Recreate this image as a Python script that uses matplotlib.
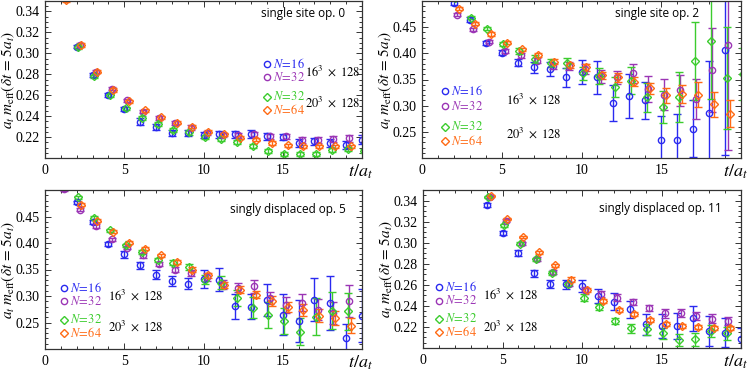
import numpy as np
import matplotlib
matplotlib.use("Agg")
import matplotlib.pyplot as plt
from matplotlib.ticker import MultipleLocator, FormatStrFormatter

plt.rcParams['font.family'] = 'serif'
plt.rcParams['font.serif'] = ['Liberation Serif', 'DejaVu Serif']
plt.rcParams['mathtext.fontset'] = 'stix'

# ---------------- data ----------------
# panel 1: single site op. 0  (t = 1..20)
t_p1 = np.arange(1, 21)
p1_blue = [0.356, 0.3062, 0.2794, 0.260, 0.2468, 0.2348, 0.2298, 0.2238, 0.2238, 0.2222,
           0.2225, 0.2225, 0.2228, 0.2206, 0.2200, 0.2143, 0.2159, 0.2143, 0.2124, 0.2175]
p1_blue_err = [0.002, 0.0015, 0.0018, 0.002, 0.002, 0.003, 0.003, 0.003, 0.003, 0.003,
               0.003, 0.003, 0.0035, 0.003, 0.003, 0.0035, 0.0035, 0.004, 0.004, 0.004]
p1_purple = [0.357, 0.308, 0.2825, 0.266, 0.2553, 0.2443, 0.2383, 0.2333, 0.2291, 0.2238,
             0.2218, 0.2215, 0.2228, 0.2206, 0.2206, 0.2175, 0.2175, 0.2181, 0.2187, 0.2190]
p1_purple_err = [0.0015, 0.0015, 0.0015, 0.0015, 0.0015, 0.0015, 0.002, 0.002, 0.002, 0.002,
                 0.002, 0.002, 0.0025, 0.0025, 0.0025, 0.003, 0.003, 0.003, 0.003, 0.003]
p1_green = [0.355, 0.306, 0.278, 0.260, 0.2475, 0.2386, 0.2323, 0.2269, 0.2244, 0.2200,
            0.2184, 0.2149, 0.2111, 0.2064, 0.2042, 0.2042, 0.2042, 0.2073, 0.2086, 0.2070]
p1_green_err = [0.0015, 0.0015, 0.0015, 0.0015, 0.0015, 0.002, 0.002, 0.002, 0.002, 0.002,
                0.002, 0.002, 0.002, 0.002, 0.002, 0.002, 0.002, 0.002, 0.002, 0.002]
p1_orange = [0.351, 0.308, 0.2825, 0.265, 0.254, 0.2456, 0.2389, 0.2339, 0.2298, 0.2253,
             0.2225, 0.2193, 0.2175, 0.2143, 0.2121, 0.2111, 0.2111, 0.2111, 0.2111, 0.2110]
p1_orange_err = [0.0015] * 20

# panel 2: single site op. 2  (t = 2..20)
t_p2 = np.arange(2, 21)
p2_blue = [0.497, 0.4645, 0.420, 0.401, 0.382, 0.373, 0.370, 0.354, 0.365, 0.354,
           0.305, 0.319, 0.310, 0.234, 0.235, 0.256, 0.286, 0.406, np.nan]
p2_blue_err = [0.004, 0.005, 0.004, 0.005, 0.007, 0.010, 0.014, 0.018, 0.023, 0.032,
               0.034, 0.042, 0.035, 0.047, 0.050, 0.055, 0.10, 0.20, np.nan]
p2_purple = [0.474, 0.4456, 0.4222, 0.4045, 0.396, 0.386, 0.376, 0.376, 0.370, 0.356,
             0.354, 0.362, 0.332, 0.321, 0.329, 0.313, 0.368, 0.415, np.nan]
p2_purple_err = [0.003, 0.003, 0.003, 0.003, 0.004, 0.005, 0.006, 0.008, 0.010, 0.012,
                 0.013, 0.018, 0.025, 0.030, 0.030, 0.038, 0.08, 0.20, np.nan]
p2_green = [0.505, 0.468, 0.447, 0.418, 0.4045, 0.389, 0.382, 0.382, 0.362, 0.357,
            0.335, 0.348, 0.316, 0.297, 0.317, 0.385, 0.423, 0.353, 0.360]
p2_green_err = [0.003, 0.003, 0.003, 0.004, 0.005, 0.007, 0.008, 0.010, 0.012, 0.015,
                0.019, 0.025, 0.028, 0.031, 0.048, 0.075, 0.11, 0.097, 0.05]
p2_orange = [0.485, 0.457, 0.437, 0.420, 0.408, 0.397, 0.384, 0.377, 0.373, 0.358,
             0.354, 0.346, 0.333, 0.320, 0.322, 0.321, 0.303, 0.285, np.nan]
p2_orange_err = [0.003, 0.003, 0.003, 0.003, 0.003, 0.004, 0.005, 0.005, 0.006, 0.007,
                 0.008, 0.009, 0.011, 0.014, 0.017, 0.024, 0.024, 0.026, np.nan]

# panel 3: singly displaced op. 5  (t = 1..20)
t_p3 = np.arange(1, 21)
p3_blue = [0.51, 0.4766, 0.440, 0.3987, 0.3785, 0.358, 0.3405, 0.328, 0.3234, 0.333,
           0.331, 0.2804, 0.280, 0.293, 0.265, 0.253, 0.293, 0.287, 0.2215, 0.263]
p3_blue_err = [0.003, 0.003, 0.004, 0.004, 0.006, 0.007, 0.008, 0.0095, 0.010, 0.017,
               0.022, 0.024, 0.024, 0.030, 0.038, 0.040, 0.041, 0.051, 0.025, 0.05]
p3_purple = [0.502, 0.4627, 0.432, 0.407, 0.391, 0.3766, 0.361, 0.350, 0.3437, 0.336,
             0.322, 0.316, 0.318, 0.296, 0.283, 0.287, 0.274, 0.268, 0.291, np.nan]
p3_purple_err = [0.003, 0.003, 0.003, 0.003, 0.003, 0.004, 0.004, 0.005, 0.006, 0.007,
                 0.008, 0.009, 0.012, 0.012, 0.015, 0.016, 0.020, 0.020, 0.030, np.nan]
p3_green = [0.515, 0.486, 0.448, 0.424, 0.3956, 0.383, 0.3684, 0.363, 0.355, 0.331,
            0.325, 0.296, 0.278, 0.264, 0.253, 0.233, 0.261, 0.272, 0.271, np.nan]
p3_green_err = [0.002, 0.003, 0.003, 0.003, 0.003, 0.004, 0.004, 0.005, 0.006, 0.008,
                0.012, 0.015, 0.020, 0.025, 0.025, 0.025, 0.035, 0.035, 0.035, np.nan]
p3_orange = [0.51, 0.472, 0.442, 0.421, 0.4006, 0.389, 0.3766, 0.364, 0.350, 0.339,
             0.321, 0.312, 0.3025, 0.291, 0.279, 0.274, 0.263, 0.258, 0.244, np.nan]
p3_orange_err = [0.002, 0.003, 0.003, 0.003, 0.003, 0.003, 0.003, 0.003, 0.004, 0.005,
                 0.005, 0.006, 0.007, 0.009, 0.010, 0.011, 0.012, 0.013, 0.014, np.nan]

# panel 4: singly displaced op. 11  (t = 4..20)
t_p4 = np.arange(4, 21)
p4_blue = [0.3356, 0.3094, 0.2904, 0.2708, 0.261, 0.2604, 0.2588, 0.2494, 0.244, 0.2367,
           0.2225, 0.2209, 0.2209, 0.2282, 0.2162, 0.2146, 0.209]
p4_blue_err = [0.002, 0.002, 0.003, 0.003, 0.004, 0.004, 0.006, 0.007, 0.008, 0.008,
               0.010, 0.011, 0.012, 0.012, 0.014, 0.014, 0.010]
p4_purple = [0.3435, 0.321, 0.2995, 0.2845, 0.2725, 0.261, 0.2547, 0.251, 0.2478, 0.2437,
             0.2377, 0.2329, 0.2335, 0.2304, 0.2279, 0.2257, np.nan]
p4_purple_err = [0.001, 0.001, 0.0015, 0.0015, 0.002, 0.002, 0.003, 0.003, 0.003, 0.003,
                 0.003, 0.004, 0.004, 0.004, 0.004, 0.004, np.nan]
p4_green = [0.343, 0.3166, 0.2989, 0.2841, 0.2715, 0.2604, 0.2478, 0.2392, 0.2257, 0.2187,
            0.2178, 0.2140, 0.2077, 0.2083, 0.2162, 0.2140, np.nan]
p4_green_err = [0.001, 0.0015, 0.0015, 0.0015, 0.002, 0.002, 0.003, 0.003, 0.003, 0.004,
                0.005, 0.005, 0.006, 0.006, 0.006, 0.006, np.nan]
p4_orange = [0.3447, 0.3226, 0.3053, 0.291, 0.2784, 0.265, 0.2547, 0.2446, 0.2358, 0.2326,
             0.2266, 0.2225, 0.2209, 0.2203, 0.2193, 0.2187, np.nan]
p4_orange_err = [0.001] * 3 + [0.0015] * 2 + [0.002] * 11 + [np.nan]

titles = ["single site op. 0", "single site op. 2",
          "singly displaced op. 5", "singly displaced op. 11"]
legend_labels = [r"$N\!=\!16$", r"$N\!=\!32$", r"$N\!=\!32$", r"$N\!=\!64$"]
lattice_labels = [r"$16^3\ \times\ 128$", r"$20^3\ \times\ 128$"]

# ---------------- style ----------------
c_blue = '#2a2af0'
c_purple = '#9b35b5'
c_green = '#3ccc2e'
c_orange = '#ff6a14'
# series: colour, marker, x shift
series_style = [(c_blue, 'o', 0.0), (c_purple, 'o', 0.2), (c_green, 'D', 0.1), (c_orange, 'D', 0.3)]

W, H = 748, 371
fig = plt.figure(figsize=(W / 100, H / 100), dpi=100)

def px_axes(l, t, r, b):
    return fig.add_axes([l / W, 1 - b / H, (r - l) / W, (b - t) / H])

panels = [
    dict(box=(45, 1, 362, 158), t=t_p1,
         data=[(p1_blue, p1_blue_err), (p1_purple, p1_purple_err), (p1_green, p1_green_err), (p1_orange, p1_orange_err)],
         ylim=(0.2, 0.35), ymin=0.005, yticks=np.arange(0.22, 0.345, 0.02),
         title=(0.946, 0.92), xlab=1.035,
         leg=(0.70, [0.60, 0.515, 0.39, 0.305]), lat=(0.82, [0.555, 0.355])),
    dict(box=(422, 1, 741, 158), t=t_p2,
         data=[(p2_blue, p2_blue_err), (p2_purple, p2_purple_err), (p2_green, p2_green_err), (p2_orange, p2_orange_err)],
         ylim=(0.2, 0.5), ymin=0.01, yticks=np.arange(0.25, 0.46, 0.05),
         title=(0.868, 0.92), xlab=1.02,
         leg=(0.072, [0.425, 0.33, 0.20, 0.11]), lat=(0.262, [0.375, 0.16])),
    dict(box=(45, 190, 362, 349), t=t_p3,
         data=[(p3_blue, p3_blue_err), (p3_purple, p3_purple_err), (p3_green, p3_green_err), (p3_orange, p3_orange_err)],
         ylim=(0.2, 0.5), ymin=0.01, yticks=np.arange(0.25, 0.46, 0.05),
         title=(0.95, 0.88), xlab=1.035,
         leg=(0.06, [0.385, 0.30, 0.185, 0.10]), lat=(0.20, [0.34, 0.14])),
    dict(box=(423, 190, 741, 348), t=t_p4,
         data=[(p4_blue, p4_blue_err), (p4_purple, p4_purple_err), (p4_green, p4_green_err), (p4_orange, p4_orange_err)],
         ylim=(0.2, 0.35), ymin=0.005, yticks=np.arange(0.22, 0.345, 0.02),
         title=(0.94, 0.88), xlab=1.02,
         leg=(0.05, [0.385, 0.30, 0.185, 0.10]), lat=(0.19, [0.34, 0.14])),
]

for k, p in enumerate(panels):
    ax = px_axes(*p['box'])
    for (vals, errs), (col, mk, dx) in zip(p['data'], series_style):
        ax.errorbar(p['t'] + dx, vals, yerr=errs, fmt=mk, color=col, mfc='none', mec=col,
                    ms=4.5 if mk == 'o' else 4.2, mew=1.0, elinewidth=1.0, capsize=3, capthick=1.0)
    ax.set_xlim(0, 20)
    ax.set_ylim(*p['ylim'])
    ax.set_xticks([0, 5, 10, 15])
    ax.set_yticks(p['yticks'])
    ax.xaxis.set_minor_locator(MultipleLocator(1))
    ax.yaxis.set_minor_locator(MultipleLocator(p['ymin']))
    ax.yaxis.set_major_formatter(FormatStrFormatter("%.2f"))
    ax.tick_params(which='both', direction='in', top=True, right=True, labelsize=10,
                   color='#333333', width=0.7, pad=4)
    ax.tick_params(which='major', length=4)
    ax.tick_params(which='minor', length=2)
    for s in ax.spines.values():
        s.set_color('#333333')
        s.set_linewidth(0.9)
    ax.set_ylabel(r"$a_t\; m_{\rm eff}(\delta t\, =\, 5 a_t)$", fontsize=11)
    ax.yaxis.set_label_coords(-0.088, 0.5)
    ax.text(p['xlab'], -0.03, r"$t/a_t$", transform=ax.transAxes, ha='right', va='top', fontsize=13)
    ax.text(p['title'][0], p['title'][1], titles[k], transform=ax.transAxes, ha='right', va='center',
            fontsize=8.5, family='Open Sans')

    # legend block
    lx, lys = p['leg']
    for (col, mk, dx), lab, ly in zip(series_style, legend_labels, lys):
        ax.plot([lx], [ly], marker=mk, color=col, mfc='none', mec=col, ms=4.5 if mk == 'o' else 4.2,
                mew=1.0, transform=ax.transAxes, clip_on=False)
        ax.text(lx + 0.02, ly, lab, transform=ax.transAxes, color=col, fontsize=9,
                ha='left', va='center')
    tx, tys = p['lat']
    for lab, ty in zip(lattice_labels, tys):
        ax.text(tx, ty, lab, transform=ax.transAxes, fontsize=9, ha='left', va='center')

fig.savefig("out.png", dpi=100)
